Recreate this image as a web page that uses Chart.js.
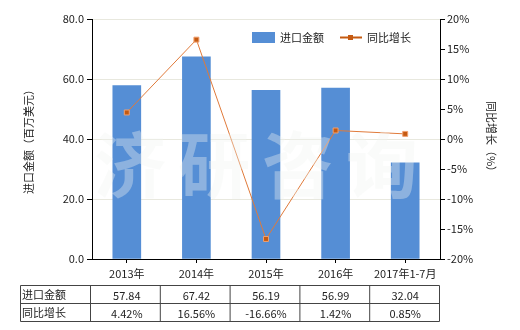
<!DOCTYPE html>
<html>
<head>
<meta charset="utf-8">
<script src="https://cdn.jsdelivr.net/npm/chart.js@4/dist/chart.umd.min.js"></script>
<style>
  html, body { margin: 0; padding: 0; background: #fff; }
  #wrap { width: 520px; height: 330px; }
</style>
</head>
<body>
<div id="wrap"><canvas id="c" width="520" height="330"></canvas></div>
<script>
const categories = ["2013年", "2014年", "2015年", "2016年", "2017年1-7月"];
const importValues = [57.84, 67.42, 56.19, 56.99, 32.04];
const growthValues = [4.42, 16.56, -16.66, 1.42, 0.85];
const importLabels = ["57.84", "67.42", "56.19", "56.99", "32.04"];
const growthLabels = ["4.42%", "16.56%", "-16.66%", "1.42%", "0.85%"];

const FONT = '"Noto Sans CJK SC", "Noto Sans", sans-serif';
const BLUE = "#558ed5";
const ORANGE = "#c55a11";

// watermark, legend and the data table under the axis
const extras = {
  id: "extras",
  afterDatasetsDraw(chart) {
    const ctx = chart.ctx;
    ctx.save();
    ctx.fillStyle = "rgba(240,245,240,0.36)";
    ctx.font = "bold 72px " + FONT;
    ctx.textBaseline = "middle";
    ctx.textAlign = "center";
    ["济", "研", "咨", "询"].forEach((t, i) => ctx.fillText(t, 130 + i * 84, 165));
    ctx.restore();
  },
  afterDraw(chart) {
    const ctx = chart.ctx;
    const x = chart.scales.x;
    ctx.save();
    // legend
    ctx.fillStyle = BLUE;
    ctx.fillRect(252, 32, 23, 11);
    ctx.font = "11px " + FONT;
    ctx.fillStyle = "#222";
    ctx.textBaseline = "middle";
    ctx.textAlign = "left";
    ctx.fillText("进口金额", 280, 38);
    ctx.strokeStyle = ORANGE;
    ctx.lineWidth = 2;
    ctx.beginPath(); ctx.moveTo(340, 37.5); ctx.lineTo(362, 37.5); ctx.stroke();
    ctx.fillStyle = ORANGE;
    ctx.fillRect(348, 35, 5, 5);
    ctx.fillStyle = "#222";
    ctx.fillText("同比增长", 367, 38);

    // table
    const top = 285.5, rowH = 18, left = 20.5, firstCol = 90.5, right = 439.5;
    ctx.strokeStyle = "#444";
    ctx.lineWidth = 1;
    ctx.beginPath();
    for (let r = 0; r <= 2; r++) {
      ctx.moveTo(left, top + r * rowH); ctx.lineTo(right, top + r * rowH);
    }
    ctx.moveTo(left, top); ctx.lineTo(left, top + 2 * rowH);
    ctx.moveTo(firstCol, top); ctx.lineTo(firstCol, top + 2 * rowH);
    const step = (right - firstCol) / categories.length;
    for (let i = 1; i <= categories.length; i++) {
      const cx = firstCol + i * step;
      ctx.moveTo(cx, top); ctx.lineTo(cx, top + 2 * rowH);
    }
    ctx.stroke();
    ctx.fillStyle = "#222";
    ctx.textAlign = "left";
    ctx.fillText("进口金额", 22, top + rowH / 2);
    ctx.fillText("同比增长", 22, top + rowH * 1.5);
    ctx.textAlign = "center";
    categories.forEach((c, i) => {
      const cx = x.getPixelForValue(i);
      ctx.fillText(importLabels[i], cx, top + rowH / 2 + 1);
      ctx.fillText(growthLabels[i], cx, top + rowH * 1.5 + 1);
    });
    ctx.restore();
  }
};

new Chart(document.getElementById("c"), {
  data: {
    labels: categories,
    datasets: [
      {
        type: "line",
        label: "同比增长",
        data: growthValues,
        yAxisID: "y1",
        borderColor: "#e07a3a",
        borderWidth: 1,
        pointStyle: "rect",
        pointRadius: 3.5,
        pointBackgroundColor: ORANGE,
        pointBorderColor: "#f0a070",
        pointBorderWidth: 1,
        tension: 0,
        order: 0
      },
      {
        type: "bar",
        label: "进口金额",
        data: importValues,
        yAxisID: "y",
        backgroundColor: BLUE,
        barThickness: 28,
        order: 1
      }
    ]
  },
  options: {
    responsive: false,
    animation: false,
    layout: { padding: { top: 19, left: 0, right: 0, bottom: 0 } },
    plugins: { legend: { display: false }, tooltip: { enabled: false } },
    scales: {
      x: {
        offset: true,
        grid: { offset: false, drawOnChartArea: false, color: "#000", tickLength: 4 },
        border: { color: "#000" },
        ticks: { color: "#222", font: { family: FONT, size: 11 }, padding: 4 },
        afterFit(s) { s.height = 71; }
      },
      y: {
        position: "left",
        min: 0, max: 80,
        ticks: { stepSize: 20, color: "#222", font: { family: FONT, size: 11 }, padding: 3,
          callback: v => v.toFixed(1) },
        grid: { color: "#e8e8de", tickColor: "#000", tickLength: 5 },
        border: { color: "#000" },
        title: { display: true, text: "进口金额（百万美元）", color: "#222", font: { family: FONT, size: 11 }, padding: 22 },
        afterFit(s) { s.width = 92; }
      },
      y1: {
        position: "right",
        min: -20, max: 20,
        ticks: { stepSize: 5, color: "#222", font: { family: FONT, size: 11 }, padding: 2,
          callback: v => v + "%" },
        grid: { drawOnChartArea: false, color: "#000", tickLength: 5 },
        border: { color: "#000" },
        title: { display: true, text: "同比增长（%）", color: "#222", font: { family: FONT, size: 11 }, padding: 22 },
        afterFit(s) { s.width = 80; }
      }
    }
  },
  plugins: [extras]
});
</script>
</body>
</html>
